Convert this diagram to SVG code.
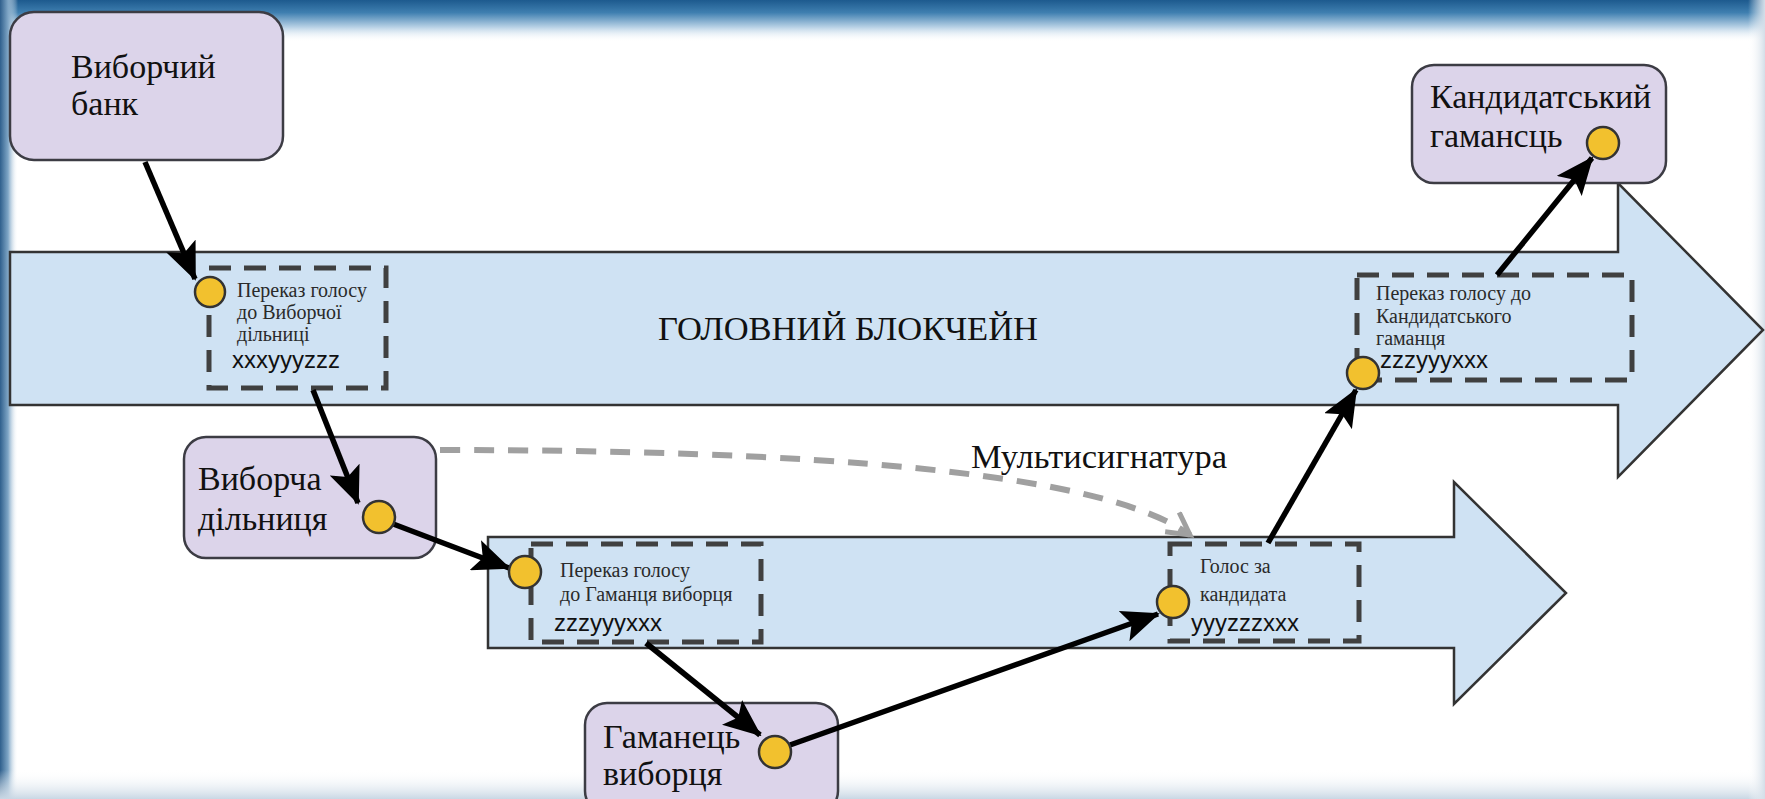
<svg xmlns="http://www.w3.org/2000/svg" width="1765" height="799" viewBox="0 0 1765 799">
<defs>
<linearGradient id="gTop" x1="0" y1="0" x2="0" y2="1"><stop offset="0" stop-color="#1d5a8e"/><stop offset="0.3" stop-color="#3f7fb0"/><stop offset="0.65" stop-color="#b9d2e6"/><stop offset="1" stop-color="#ffffff" stop-opacity="0"/></linearGradient>
<linearGradient id="gLeft" x1="0" y1="0" x2="1" y2="0"><stop offset="0" stop-color="#2f5f8c"/><stop offset="0.45" stop-color="#7fa6c6"/><stop offset="1" stop-color="#ffffff" stop-opacity="0"/></linearGradient>
<linearGradient id="gBot" x1="0" y1="0" x2="0" y2="1"><stop offset="0" stop-color="#ffffff" stop-opacity="0"/><stop offset="1" stop-color="#c9d7e4"/></linearGradient>
<linearGradient id="gRight" x1="0" y1="0" x2="1" y2="0"><stop offset="0" stop-color="#ffffff" stop-opacity="0"/><stop offset="1" stop-color="#d3dee8"/></linearGradient>
<marker id="ah" markerUnits="userSpaceOnUse" markerWidth="38" markerHeight="32" refX="36" refY="16" orient="auto"><path d="M0,0 L38,16 L0,32 L8,16 z" fill="#000"/></marker>
<marker id="oh" markerUnits="userSpaceOnUse" markerWidth="30" markerHeight="30" refX="24" refY="14" orient="auto"><path d="M2,2 L24,14 L2,26" fill="none" stroke="#a0a0a0" stroke-width="5"/></marker>
</defs>
<style>
.node{fill:#dcd4ea;stroke:#3c3c44;stroke-width:2.5}
.band{fill:#cfe2f3;stroke:#333;stroke-width:2.5}
.dbox{fill:none;stroke:#404040;stroke-width:5;stroke-dasharray:22 13}
.dot{fill:#f2c12e;stroke:#333;stroke-width:2.5}
.lbl{font-family:"Liberation Serif","Times New Roman",serif;font-size:34px;fill:#111}
.sm{font-family:"Liberation Serif","Times New Roman",serif;font-size:20px;fill:#2a2a2a}
.code{font-family:"Liberation Sans",Arial,sans-serif;font-size:24px;fill:#111}
.con{stroke:#000;stroke-width:5.5;fill:none;marker-end:url(#ah)}
</style>
<rect width="1765" height="799" fill="#ffffff"/>
<rect x="0" y="0" width="1765" height="42" fill="url(#gTop)"/>
<rect x="0" y="0" width="18" height="799" fill="url(#gLeft)"/>
<rect x="0" y="770" width="1765" height="29" fill="url(#gBot)"/>
<rect x="1748" y="0" width="17" height="799" fill="url(#gRight)"/>

<g id="main-chain">
<polygon class="band" points="10,252 1618,252 1618,183 1763,330 1618,477 1618,405 10,405"/>
<text class="lbl" x="658" y="340" font-size="32" textLength="380" lengthAdjust="spacingAndGlyphs">ГОЛОВНИЙ БЛОКЧЕЙН</text>
</g>
<g id="side-chain">
<polygon class="band" points="488,537 1454,537 1454,482 1566,593 1454,704 1454,648 488,648"/>
</g>

<g id="tx1">
<rect class="dbox" x="209" y="268" width="177" height="120"/>
<text class="sm" x="237" y="297">Переказ голосу</text>
<text class="sm" x="237" y="319">до Виборчої</text>
<text class="sm" x="237" y="341">дільниці</text>
<text class="code" x="232" y="368">xxxyyyzzz</text>
</g>
<g id="tx2">
<rect class="dbox" x="531" y="544" width="230" height="98"/>
<text class="sm" x="560" y="577" font-size="21">Переказ голосу</text>
<text class="sm" x="560" y="601" font-size="21">до Гаманця виборця</text>
<text class="code" x="554" y="631">zzzyyyxxx</text>
</g>
<g id="tx3">
<rect class="dbox" x="1170" y="544" width="189" height="97"/>
<text class="sm" x="1200" y="573" font-size="23">Голос за</text>
<text class="sm" x="1200" y="601" font-size="23">кандидата</text>
<text class="code" x="1191" y="631">yyyzzzxxx</text>
</g>
<g id="tx4">
<rect class="dbox" x="1357" y="275" width="275" height="105"/>
<text class="sm" x="1376" y="300">Переказ голосу до</text>
<text class="sm" x="1376" y="323">Кандидатського</text>
<text class="sm" x="1376" y="345">гаманця</text>
<text class="code" x="1380" y="368">zzzyyyxxx</text>
</g>

<g id="bank">
<rect class="node" x="10" y="12" width="273" height="148" rx="24"/>
<text class="lbl" x="71" y="78">Виборчий</text>
<text class="lbl" x="71" y="115">банк</text>
</g>
<g id="station">
<rect class="node" x="184" y="437" width="252" height="121" rx="22"/>
<text class="lbl" x="198" y="490">Виборча</text>
<text class="lbl" x="198" y="530">дільниця</text>
</g>
<g id="voter-wallet">
<rect class="node" x="585" y="703" width="253" height="110" rx="22"/>
<text class="lbl" x="603" y="748">Гаманець</text>
<text class="lbl" x="603" y="785">виборця</text>
</g>
<g id="candidate-wallet">
<rect class="node" x="1412" y="65" width="254" height="118" rx="22"/>
<text class="lbl" x="1430" y="108">Кандидатський</text>
<text class="lbl" x="1430" y="147">гамансць</text>
</g>

<g id="connectors">
<path d="M440,450 C800,450 1100,470 1190,535" fill="none" stroke="#a0a0a0" stroke-width="6" stroke-dasharray="20 14" marker-end="url(#oh)"/>
<line class="con" x1="145" y1="162" x2="195" y2="279"/>
<line class="con" x1="313" y1="390" x2="358" y2="503"/>
<line class="con" x1="388" y1="522" x2="509" y2="568"/>
<line class="con" x1="646" y1="643" x2="760" y2="735"/>
<line class="con" x1="790" y1="745" x2="1158" y2="614"/>
<line class="con" x1="1268" y1="543" x2="1356" y2="390"/>
<line class="con" x1="1497" y1="275" x2="1592" y2="158"/>
</g>
<text class="lbl" x="971" y="468" font-size="32" textLength="256" lengthAdjust="spacingAndGlyphs">Мультисигнатура</text>

<g id="dots">
<circle class="dot" cx="210" cy="292" r="15"/>
<circle class="dot" cx="379" cy="517" r="16"/>
<circle class="dot" cx="525" cy="572" r="16"/>
<circle class="dot" cx="775" cy="752" r="16"/>
<circle class="dot" cx="1173" cy="602" r="16"/>
<circle class="dot" cx="1363" cy="373" r="16"/>
<circle class="dot" cx="1603" cy="143" r="16"/>
</g>
</svg>
